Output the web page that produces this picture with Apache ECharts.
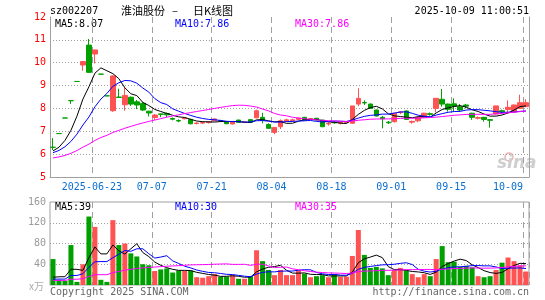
<!DOCTYPE html>
<html>
<head>
<meta charset="utf-8">
<script src="https://cdn.jsdelivr.net/npm/echarts@6/dist/echarts.min.js"></script>
<style>
  html, body { margin: 0; padding: 0; background: #fff; }
  #main { width: 545px; height: 300px; }
</style>
</head>
<body>
<div id="main"></div>
<script>
// 交易日
const dates = [
  '2025-06-12','2025-06-13','2025-06-16','2025-06-17','2025-06-18','2025-06-19','2025-06-20','2025-06-23','2025-06-24','2025-06-25',
  '2025-06-26','2025-06-27','2025-06-30','2025-07-01','2025-07-02','2025-07-03','2025-07-04','2025-07-07','2025-07-08','2025-07-09',
  '2025-07-10','2025-07-11','2025-07-14','2025-07-15','2025-07-16','2025-07-17','2025-07-18','2025-07-21','2025-07-22','2025-07-23',
  '2025-07-24','2025-07-25','2025-07-28','2025-07-29','2025-07-30','2025-07-31','2025-08-01','2025-08-04','2025-08-05','2025-08-06',
  '2025-08-07','2025-08-08','2025-08-11','2025-08-12','2025-08-13','2025-08-14','2025-08-15','2025-08-18','2025-08-19','2025-08-20',
  '2025-08-21','2025-08-22','2025-08-25','2025-08-26','2025-08-27','2025-08-28','2025-08-29','2025-09-01','2025-09-02','2025-09-03',
  '2025-09-04','2025-09-05','2025-09-08','2025-09-09','2025-09-10','2025-09-11','2025-09-12','2025-09-15','2025-09-16','2025-09-17',
  '2025-09-18','2025-09-19','2025-09-22','2025-09-23','2025-09-24','2025-09-25','2025-09-26','2025-09-29','2025-09-30','2025-10-09'
]
const openP = [
  6.30,6.90,7.58,8.34,9.18,9.90,10.77,10.38,9.50,8.55,
  7.90,8.50,8.16,8.49,8.29,8.22,7.88,7.60,7.76,7.78,
  7.56,7.47,7.55,7.52,7.34,7.36,7.38,7.46,7.47,7.43,
  7.32,7.49,7.39,7.51,7.59,7.61,7.30,6.95,7.20,7.45,
  7.47,7.52,7.61,7.53,7.57,7.49,7.32,7.39,7.35,7.38,
  7.35,8.19,8.26,8.19,7.93,7.61,7.40,7.42,7.82,7.89,
  7.40,7.46,7.61,7.77,8.00,8.40,8.19,8.20,8.07,8.15,
  7.79,7.57,7.61,7.51,7.76,7.90,7.95,7.85,8.00,8.08
]
const closeP = [
  6.30,6.90,7.58,8.34,9.18,10.05,9.58,10.56,9.50,8.55,
  9.42,8.48,8.57,8.19,8.15,7.93,7.80,7.71,7.74,7.72,
  7.53,7.45,7.58,7.33,7.36,7.38,7.41,7.54,7.45,7.33,
  7.42,7.39,7.40,7.39,7.90,7.47,7.13,7.17,7.46,7.50,
  7.50,7.57,7.49,7.55,7.49,7.20,7.35,7.37,7.38,7.40,
  8.11,8.44,8.24,8.00,7.67,7.55,7.37,7.79,7.85,7.52,
  7.43,7.61,7.79,7.74,8.44,8.19,7.96,8.10,7.93,8.10,
  7.61,7.60,7.52,7.48,8.11,7.85,8.05,8.15,8.25,8.25
]
const lowP = [
  6.18,6.90,7.58,8.20,9.18,9.65,9.55,9.97,9.50,8.55,
  7.85,8.46,7.90,8.11,7.97,7.89,7.65,7.50,7.62,7.62,
  7.48,7.40,7.52,7.30,7.30,7.32,7.34,7.44,7.40,7.31,
  7.30,7.37,7.36,7.37,7.57,7.35,7.10,6.87,7.10,7.40,
  7.42,7.50,7.46,7.50,7.47,7.18,7.25,7.33,7.30,7.35,
  7.33,8.10,8.15,7.98,7.65,7.13,7.32,7.38,7.75,7.50,
  7.33,7.40,7.58,7.68,7.82,8.08,7.86,7.86,7.86,8.00,
  7.50,7.52,7.42,7.16,7.74,7.80,7.79,7.83,7.98,8.05
]
const highP = [
  6.70,6.90,7.58,8.34,9.18,10.08,11.04,10.56,9.50,8.55,
  9.45,8.86,8.95,8.52,8.37,8.29,7.89,7.75,7.77,7.82,
  7.60,7.52,7.62,7.55,7.40,7.43,7.45,7.56,7.50,7.45,
  7.44,7.51,7.43,7.53,7.95,7.81,7.35,7.18,7.52,7.55,
  7.55,7.60,7.63,7.58,7.58,7.50,7.40,7.45,7.42,7.43,
  8.11,8.88,8.35,8.22,7.95,7.67,7.45,7.81,7.88,7.91,
  7.47,7.63,7.81,7.82,8.46,8.85,8.21,8.44,8.19,8.20,
  7.81,7.65,7.63,7.53,8.12,7.95,8.35,8.17,8.60,8.40
]
// 成交量(万)
const volume = [
  50,10,8,77,6,40,132,112,10,6,
  125,77,80,61,55,40,38,27,30,32,
  24,28,27,28,15,14,17,21,16,16,
  19,12,12,17,67,46,29,19,29,19,
  19,28,22,15,17,19,15,21,16,16,
  56,106,58,33,35,32,19,29,33,28,
  21,15,21,17,50,75,44,45,35,37,
  34,17,15,17,29,43,53,46,38,26
]
// 窗口之前的收盘价/成交量，只用来算均线开头
const preClose = [
  5.55,5.58,5.60,5.57,5.62,5.65,5.63,5.66,5.70,5.68,
  5.72,5.75,5.78,5.76,5.80,5.83,5.85,5.88,5.86,5.90,
  5.93,5.96,5.98,6.02,6.05,6.08,6.10,6.12,6.10
]
const preVol = [
  8,7,9,6,8,7,8,9,7,6,
  8,7,9,8,7,6,8,7,8,9,
  7,8,6,7,8,6,7,5,7
]
const tickDates = ['2025-06-23','2025-07-07','2025-07-21','2025-08-04','2025-08-18','2025-09-01','2025-09-15','2025-10-09']
const tickLabels = ['2025-06-23','07-07','07-21','08-04','08-18','09-01','09-15','10-09']

const RED = '#ff5353'
const GREEN = '#00a000'
const GRAY = '#a0a0a0'
const MONO = '"DejaVu Sans Mono", monospace'
const CJK = '"Noto Sans CJK SC"'

const calcMA = (n, src, pre) => {
  const all = pre.concat(src)
  const off = pre.length
  return src.map((v, i) => {
    let s = 0
    for (let k = 0; k < n; k++) s += all[off + i - k]
    return +(s / n).toFixed(3)
  })
}

const candleData = dates.map((d, i) => {
  const item = { value: [openP[i], closeP[i], lowP[i], highP[i]] }
  if (openP[i] === closeP[i]) {
    item.itemStyle = { color: GREEN, color0: GREEN, borderColor: GREEN, borderColor0: GREEN }
  }
  return item
})
const volData = volume.map((v, i) => ({
  value: v,
  itemStyle: { color: closeP[i] > openP[i] ? RED : GREEN }
}))

const isTick = (index) => tickDates.indexOf(dates[index]) >= 0
const tickLabel = (value) => {
  const k = tickDates.indexOf(value)
  if (k < 0) return ''
  return k === tickDates.length - 1 ? '{r|' + tickLabels[k] + '}' : '{c|' + tickLabels[k] + '}'
}

const dashV = { show: true, interval: (index) => isTick(index), lineStyle: { color: GRAY, type: [6, 4], width: 1 } }
const txt = (text, x, y, fill, font, align) => ({
  type: 'text', x: x, y: y, silent: true,
  style: { text: text, fill: fill, font: font, align: align || 'left', verticalAlign: 'middle' }
})

const myChart = echarts.init(document.getElementById('main'))
myChart.setOption({
  animation: false,
  grid: [
    { left: 50, right: 16, top: 17, height: 160 },
    { left: 50, right: 16, top: 202, height: 83, show: true, borderColor: GRAY, borderWidth: 1 }
  ],
  xAxis: [
    {
      type: 'category', gridIndex: 0, data: dates, boundaryGap: true,
      axisLine: { onZero: false, lineStyle: { color: GRAY } },
      axisTick: { show: false },
      axisLabel: {
        interval: (index) => isTick(index),
        formatter: tickLabel,
        margin: 5,
        rich: {
          c: { color: '#0b6fd0', fontFamily: MONO, fontSize: 10, padding: [0, 6, 0, 0] },
          r: { color: '#0b6fd0', fontFamily: MONO, fontSize: 10, padding: [0, 36, 0, 0] }
        }
      },
      splitLine: dashV
    },
    {
      type: 'category', gridIndex: 1, data: dates, boundaryGap: true,
      axisLine: { show: false }, axisTick: { show: false }, axisLabel: { show: false },
      splitLine: dashV
    }
  ],
  yAxis: [
    {
      type: 'value', gridIndex: 0, min: 5, max: 12, interval: 1, position: 'left',
      axisLine: { show: true, lineStyle: { color: GRAY } },
      axisTick: { show: false },
      axisLabel: { color: '#ff0000', fontFamily: MONO, fontSize: 10, margin: 4 },
      splitLine: { show: true, lineStyle: { color: ['transparent', GRAY, GRAY, GRAY, GRAY, GRAY, GRAY, 'transparent'], type: [1, 2] } }
    },
    {
      type: 'value', gridIndex: 0, min: 5, max: 12, interval: 1, position: 'right',
      axisLine: { show: true, lineStyle: { color: GRAY } },
      axisTick: { show: false }, axisLabel: { show: false }, splitLine: { show: false }
    },
    {
      type: 'value', gridIndex: 1, min: 0, max: 160, interval: 40,
      axisLine: { show: false }, axisTick: { show: false },
      axisLabel: { color: '#999', fontFamily: MONO, fontSize: 10, margin: 4, formatter: (v) => v === 0 ? '' : v },
      splitLine: { show: true, lineStyle: { color: ['transparent', GRAY, GRAY, GRAY, 'transparent'], type: [1, 2] } }
    }
  ],
  series: [
    {
      type: 'candlestick', xAxisIndex: 0, yAxisIndex: 0, data: candleData, barWidth: 5,
      itemStyle: { color: RED, color0: GREEN, borderColor: RED, borderColor0: GREEN, borderWidth: 1 }
    },
    { type: 'line', xAxisIndex: 0, yAxisIndex: 0, data: calcMA(5, closeP, preClose), symbol: 'none', lineStyle: { color: '#000', width: 1 } },
    { type: 'line', xAxisIndex: 0, yAxisIndex: 0, data: calcMA(10, closeP, preClose), symbol: 'none', lineStyle: { color: '#0000ff', width: 1 } },
    { type: 'line', xAxisIndex: 0, yAxisIndex: 0, data: calcMA(30, closeP, preClose), symbol: 'none', lineStyle: { color: '#ff00ff', width: 1 } },
    { type: 'bar', xAxisIndex: 1, yAxisIndex: 2, data: volData, barWidth: 5 },
    { type: 'line', xAxisIndex: 1, yAxisIndex: 2, data: calcMA(5, volume, preVol), symbol: 'none', lineStyle: { color: '#000', width: 1 } },
    { type: 'line', xAxisIndex: 1, yAxisIndex: 2, data: calcMA(10, volume, preVol), symbol: 'none', lineStyle: { color: '#0000ff', width: 1 } },
    { type: 'line', xAxisIndex: 1, yAxisIndex: 2, data: calcMA(30, volume, preVol), symbol: 'none', lineStyle: { color: '#ff00ff', width: 1 } }
  ],
  graphic: [
    txt('sz002207', 50, 11, '#000', '10px ' + MONO),
    txt('淮油股份', 121, 11, '#000', '11px ' + CJK),
    txt('–', 172, 11, '#000', '11px ' + CJK),
    txt('日K线图', 193, 11, '#000', '11px ' + CJK),
    txt('2025-10-09 11:00:51', 529, 11, '#000', '10px ' + MONO, 'right'),
    txt('MA5:8.07', 55, 24, '#000', '10px ' + MONO),
    txt('MA10:7.86', 175, 24, '#0000ff', '10px ' + MONO),
    txt('MA30:7.86', 295, 24, '#ff00ff', '10px ' + MONO),
    txt('MA5:39', 55, 207, '#000', '10px ' + MONO),
    txt('MA10:30', 175, 207, '#0000ff', '10px ' + MONO),
    txt('MA30:35', 295, 207, '#ff00ff', '10px ' + MONO),
    txt('x万', 29, 286, '#aaa', '10px ' + CJK),
    txt('Copyright 2025 SINA.COM', 50, 292, '#666', '10px ' + MONO),
    txt('http://finance.sina.com.cn', 529, 292, '#666', '10px ' + MONO, 'right'),
    { type: 'circle', shape: { cx: 509, cy: 157, r: 4 }, silent: true, style: { fill: 'none', stroke: '#f0b0b0', lineWidth: 1.5 } },
    txt('sina', 497, 164, '#cfcfcf', 'italic bold 17px "DejaVu Sans"')
  ]
})
</script>
</body>
</html>
